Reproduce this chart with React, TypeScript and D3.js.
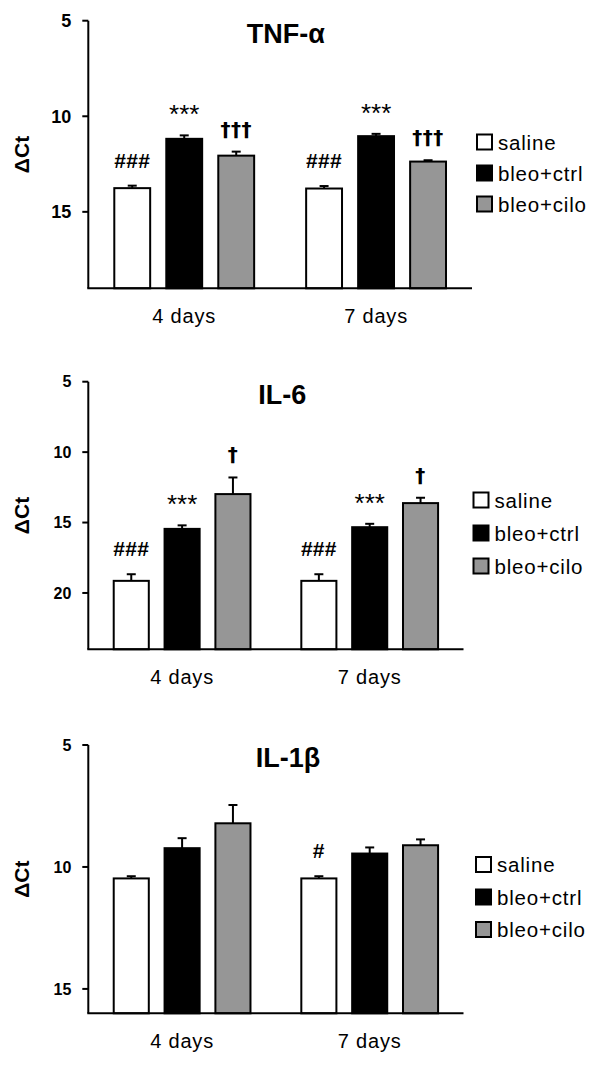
import React from "react";
import * as d3 from "d3";

// ---------- data ----------
const groups = ["4 days", "7 days"];
const series = ["saline", "bleo+ctrl", "bleo+cilo"];

// TNF-α (ΔCt mean, SEM) per group
const tnfSaline = [13.76, 13.78];
const tnfSalineErr = [0.13, 0.13];
const tnfCtrl = [11.18, 11.04];
const tnfCtrlErr = [0.18, 0.12];
const tnfCilo = [12.06, 12.37];
const tnfCiloErr = [0.21, 0.07];
const tnfMarks = [["###", "***", "†††"], ["###", "***", "†††"]];

// IL-6
const il6Saline = [19.14, 19.14];
const il6SalineErr = [0.47, 0.47];
const il6Ctrl = [15.45, 15.33];
const il6CtrlErr = [0.25, 0.24];
const il6Cilo = [12.98, 13.62];
const il6CiloErr = [1.18, 0.38];
const il6Marks = [["###", "***", "†"], ["###", "***", "†"]];

// IL-1β
const il1Saline = [10.47, 10.47];
const il1SalineErr = [0.09, 0.09];
const il1Ctrl = [9.23, 9.45];
const il1CtrlErr = [0.41, 0.25];
const il1Cilo = [8.21, 9.11];
const il1CiloErr = [0.75, 0.24];
const il1Marks = [["", "", ""], ["#", "", ""]];

const tnfTicks = [5, 10, 15];
const il6Ticks = [5, 10, 15, 20];
const il1Ticks = [5, 10, 15];

const tnfDomain = [5, 19];
const il6Domain = [5, 24];
const il1Domain = [5, 16];

const fills = ["#ffffff", "#000000", "#969696"];
const FONT = "'Liberation Sans', Arial, Helvetica, sans-serif";
const MARK_FONT = "'DejaVu Sans', 'Liberation Sans', Arial, sans-serif";

type Cfg = {
  title: string;
  domain: number[];
  ticks: number[];
  means: number[][]; // [series][group]
  errs: number[][];
  marks: string[][]; // [group][series]
  top: number;
  bottom: number;
  right: number;
  tickFont: number;
  legendX: number;
  legendMid: number;
  legendStep: number;
  titleDx: number;
};

const AXIS_X = 88.3;

function markStyle(m: string) {
  if (m.startsWith("*")) return { gap: 12, size: 26, weight: "normal", family: FONT, ls: 0 };
  if (m.startsWith("†")) return { gap: 16, size: 20, weight: "bold", family: MARK_FONT, ls: 0.5 };
  return { gap: 18, size: 21, weight: "bold", family: FONT, ls: 0.3 };
}

function Panel({ c }: { c: Cfg }) {
  const y = d3.scaleLinear().domain(c.domain).range([c.top, c.bottom]);
  const x0 = d3.scaleBand().domain(groups).range([AXIS_X, c.right]).padding(0);
  const x1 = d3
    .scaleBand()
    .domain(series)
    .range([0, x0.bandwidth()])
    .paddingInner(0.31)
    .paddingOuter(0.5);
  const bw = x1.bandwidth();
  const base = y(c.domain[1]);
  const mid = (c.top + c.bottom) / 2;

  return (
    <g>
      {/* title */}
      <text
        x={(AXIS_X + c.right) / 2 + c.titleDx}
        y={c.top + 22}
        textAnchor="middle"
        fontFamily={FONT}
        fontWeight="bold"
        fontSize={27}
        fill="#000"
      >
        {c.title}
      </text>
      {/* y label */}
      <text
        transform={`translate(29,${mid}) rotate(-90)`}
        textAnchor="middle"
        fontFamily={FONT}
        fontWeight="bold"
        fontSize={21}
        fill="#000"
      >
        ΔCt
      </text>
      {/* bars */}
      {groups.map((g, gi) =>
        series.map((s, si) => {
          const bx = (x0(g) as number) + (x1(s) as number);
          const v = c.means[si][gi];
          const e = c.errs[si][gi];
          const cx = bx + bw / 2;
          const yTop = y(v);
          const yErr = y(v - e);
          const m = c.marks[gi][si];
          const ms = markStyle(m);
          return (
            <g key={g + s}>
              <line x1={cx} x2={cx} y1={yTop} y2={yErr} stroke="#000" strokeWidth={2} />
              <line x1={cx - 4.5} x2={cx + 4.5} y1={yErr} y2={yErr} stroke="#000" strokeWidth={2} />
              <rect
                x={bx}
                y={yTop}
                width={bw}
                height={base - yTop}
                fill={fills[si]}
                stroke="#000"
                strokeWidth={2}
              />
              {m && (
                <text
                  x={cx}
                  y={yErr - ms.gap}
                  textAnchor="middle"
                  fontFamily={ms.family}
                  fontSize={ms.size}
                  fontWeight={ms.weight}
                  letterSpacing={ms.ls}
                  fill="#000"
                >
                  {m}
                </text>
              )}
            </g>
          );
        })
      )}
      {/* axes */}
      <line x1={AXIS_X} x2={AXIS_X} y1={c.top} y2={base} stroke="#000" strokeWidth={2} />
      <line x1={AXIS_X - 1} x2={c.right} y1={base} y2={base} stroke="#000" strokeWidth={2} />
      {c.ticks.map((t) => (
        <g key={t}>
          <line x1={AXIS_X - 6} x2={AXIS_X} y1={y(t)} y2={y(t)} stroke="#000" strokeWidth={2} />
          <text
            x={AXIS_X - 17}
            y={y(t)}
            dy="0.36em"
            textAnchor="end"
            fontFamily={FONT}
            fontWeight="bold"
            fontSize={c.tickFont}
            fill="#000"
          >
            {t}
          </text>
        </g>
      ))}
      {groups.map((g) => (
        <text
          key={g}
          x={(x0(g) as number) + x0.bandwidth() / 2}
          y={base + 35}
          textAnchor="middle"
          fontFamily={FONT}
          fontSize={20}
          letterSpacing={0.8}
          fill="#000"
        >
          {g}
        </text>
      ))}
      {/* legend */}
      {series.map((s, si) => {
        const cy = c.legendMid + (si - 1) * c.legendStep;
        return (
          <g key={s}>
            <rect x={c.legendX} y={cy - 7.5} width={15} height={15} fill={fills[si]} stroke="#000" strokeWidth={2} />
            <text
              x={c.legendX + 21}
              y={cy + 7.5}
              fontFamily={FONT}
              fontSize={20.5}
              letterSpacing={0.8}
              fill="#000"
            >
              {s}
            </text>
          </g>
        );
      })}
    </g>
  );
}

const panels: Cfg[] = [
  {
    title: "TNF-α",
    domain: tnfDomain,
    ticks: tnfTicks,
    means: [tnfSaline, tnfCtrl, tnfCilo],
    errs: [tnfSalineErr, tnfCtrlErr, tnfCiloErr],
    marks: tnfMarks,
    top: 20.7,
    bottom: 288.3,
    right: 472,
    tickFont: 18,
    legendX: 477,
    legendMid: 173,
    legendStep: 31,
    titleDx: 5.6,
  },
  {
    title: "IL-6",
    domain: il6Domain,
    ticks: il6Ticks,
    means: [il6Saline, il6Ctrl, il6Cilo],
    errs: [il6SalineErr, il6CtrlErr, il6CiloErr],
    marks: il6Marks,
    top: 381.7,
    bottom: 649.3,
    right: 463.5,
    tickFont: 16,
    legendX: 473.5,
    legendMid: 533,
    legendStep: 33,
    titleDx: 6.3,
  },
  {
    title: "IL-1β",
    domain: il1Domain,
    ticks: il1Ticks,
    means: [il1Saline, il1Ctrl, il1Cilo],
    errs: [il1SalineErr, il1CtrlErr, il1CiloErr],
    marks: il1Marks,
    top: 745,
    bottom: 1013.3,
    right: 463.5,
    tickFont: 16,
    legendX: 476,
    legendMid: 897,
    legendStep: 32.5,
    titleDx: 12,
  },
];

export default function App() {
  return (
    <svg
      width={600}
      height={1066}
      viewBox="0 0 600 1066"
      style={{ position: "absolute", left: 0, top: 0, background: "#fff" }}
    >
      <rect width={600} height={1066} fill="#fff" />
      {panels.map((p) => (
        <Panel key={p.title} c={p} />
      ))}
    </svg>
  );
}
